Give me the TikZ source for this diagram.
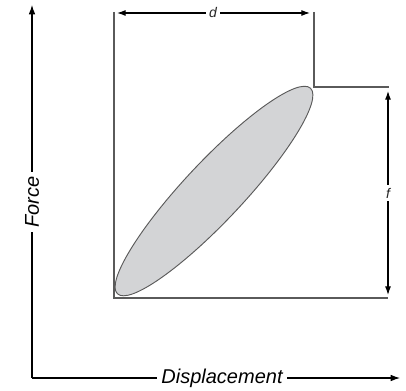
\documentclass[tikz,border=0pt]{standalone}
\usepackage{fontspec}
\setmainfont{Liberation Sans}
\usetikzlibrary{arrows.meta}
\definecolor{boxgray}{HTML}{5A5A5A}
\definecolor{fillgray}{HTML}{D3D4D6}
\begin{document}
\begin{tikzpicture}[x=0.75pt,y=0.75pt,
  axis/.style={line width=0.8pt,black},
  boxline/.style={line width=0.9pt,boxgray},
  tip/.style={-{Latex[length=7pt,width=5pt]}},
  dimtip/.style={{Latex[length=6.5pt,width=4.5pt]}-{Latex[length=6.5pt,width=4.5pt]}},
  loop/.style={fill=fillgray,draw=boxgray,line width=0.7pt},
  biglabel/.style={fill=white,inner sep=3pt,font=\fontsize{15}{18}\selectfont\itshape},
  smalllabel/.style={fill=white,inner sep=2.5pt,font=\fontsize{10.5}{12}\selectfont\itshape,text=black!85}]
\useasboundingbox (0,0) rectangle (406,390);
% axes
\coordinate (O) at (32,12);
\coordinate (Ytop) at (32,385);
\coordinate (Xend) at (400,12);
\draw[axis,tip] (O) -- (Ytop);
\draw[axis,tip] (O) -- (Xend);
\node[biglabel,rotate=90] (force) at (32,188) {Force};
\node[biglabel] (disp) at (222,12) {Displacement};
% box
\coordinate (BLtop) at (114,378);
\coordinate (BL) at (114,92);
\coordinate (BR) at (388,92);
\coordinate (Rtop) at (314,378);
\coordinate (Rcorner) at (314,303);
\coordinate (Rend) at (389,303);
\draw[boxline] (BLtop) -- (BL) -- (BR);
\draw[boxline] (Rtop) -- (Rcorner) -- (Rend);
% hysteresis loop
\coordinate (ecenter) at (214,199);
\filldraw[loop,rotate around={46.8:(ecenter)}]
  (ecenter) ellipse [x radius=141, y radius=29.5];
% dimension d
\coordinate (dL) at (117,377);
\coordinate (dR) at (310,377);
\draw[axis,dimtip] (dL) -- (dR);
\node[smalllabel] (dlab) at (213,377) {d};
% dimension f
\coordinate (fT) at (388,299);
\coordinate (fB) at (388,95);
\draw[axis,dimtip] (fT) -- (fB);
\node[smalllabel] (flab) at (388,197) {f};
\end{tikzpicture}
\end{document}
